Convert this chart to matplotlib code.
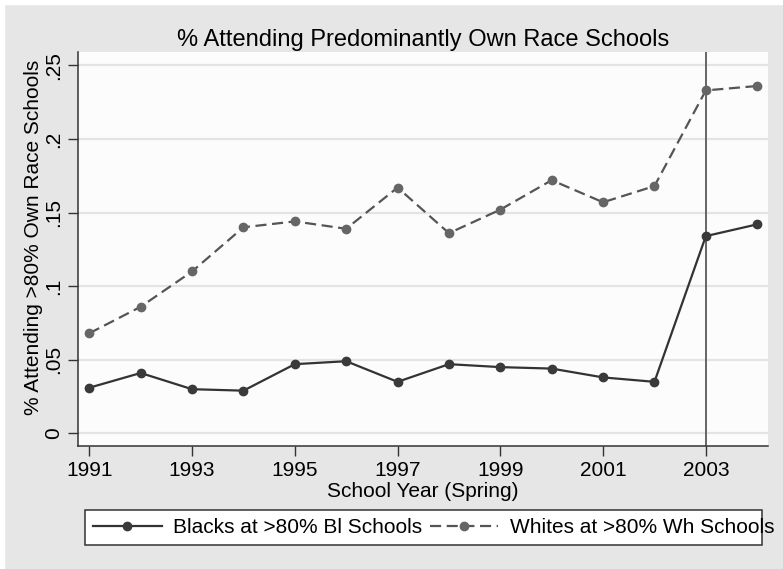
import matplotlib.pyplot as plt
from matplotlib.patches import Rectangle

plt.rcParams['font.family'] = ['Liberation Sans', 'DejaVu Sans']

# Share of students in predominantly own-race schools, spring of each school year
years = [1991, 1992, 1993, 1994, 1995, 1996, 1997, 1998, 1999, 2000, 2001, 2002, 2003, 2004]
blacks = [0.031, 0.041, 0.030, 0.029, 0.047, 0.049, 0.035, 0.047, 0.045, 0.044, 0.038, 0.035, 0.134, 0.142]
whites = [0.068, 0.086, 0.110, 0.140, 0.144, 0.139, 0.167, 0.136, 0.152, 0.172, 0.157, 0.168, 0.233, 0.236]

yticks = [0, 0.05, 0.1, 0.15, 0.2, 0.25]
ytick_labels = ['0', '.05', '.1', '.15', '.2', '.25']
xticks = [1991, 1993, 1995, 1997, 1999, 2001, 2003]
policy_year = 2003

W, H = 783, 569
fig = plt.figure(figsize=(W / 100, H / 100), dpi=100, facecolor='#e6e6e6')
# thin white margin along the top and left edges
fig.patches.append(Rectangle((0, 0), 4 / W, 1, transform=fig.transFigure, color='white', zorder=0))
fig.patches.append(Rectangle((0, 1 - 4 / H), 1, 4 / H, transform=fig.transFigure, color='white', zorder=0))

ax = fig.add_axes([78 / W, 1 - 446 / H, 690 / W, 394 / H])
ax.set_facecolor('#fcfcfc')

for y in yticks:
    ax.axhline(y, color='#e4e4e4', lw=1.6, zorder=1)
ax.axvline(policy_year, color='#5a5a5a', lw=1.3, zorder=2)

ax.plot(years, blacks, color='#333333', lw=1.6, marker='o', ms=6,
        mfc='#3a3a3a', mec='#3a3a3a', label='Blacks at >80% Bl Schools', zorder=3)
ax.plot(years, whites, color='#555555', lw=1.6, ls=(0, (5, 2.5)), marker='o', ms=6,
        mfc='#666666', mec='#666666', label='Whites at >80% Wh Schools', zorder=3)

ax.set_xlim(1990.78, 2004.21)
ax.set_ylim(-0.0086, 0.2591)
ax.set_xticks(xticks)
ax.set_xticklabels([str(x) for x in xticks], fontsize=15)
ax.set_yticks(yticks)
ax.set_yticklabels(ytick_labels, fontsize=15, rotation=90, va='center')
ax.tick_params(axis='both', length=7, width=1, color='#333333', pad=4)

for side in ['top', 'right']:
    ax.spines[side].set_visible(False)
for side in ['left', 'bottom']:
    ax.spines[side].set_color('#333333')
    ax.spines[side].set_linewidth(1.1)

ax.set_title('% Attending Predominantly Own Race Schools', fontsize=17, pad=4)
ax.set_xlabel('School Year (Spring)', fontsize=15, labelpad=1)
ax.set_ylabel('% Attending >80% Own Race Schools', fontsize=15, labelpad=2)
ax.yaxis.set_label_coords(-0.05, 0.53)

# legend box is drawn separately so the last label runs past its right edge
fig.patches.append(Rectangle((85 / W, 1 - 545 / H), 677 / W, 35 / H, transform=fig.transFigure,
                             facecolor='white', edgecolor='#333333', lw=1.1, zorder=1))
fig.legend(loc='center left', bbox_to_anchor=(93 / W, 1 - 527.5 / H), ncol=2, fontsize=15,
           frameon=False, handlelength=3.3, handletextpad=0.55, columnspacing=0.35,
           borderpad=0, borderaxespad=0)

fig.savefig('out.png', dpi=100, facecolor=fig.get_facecolor())
